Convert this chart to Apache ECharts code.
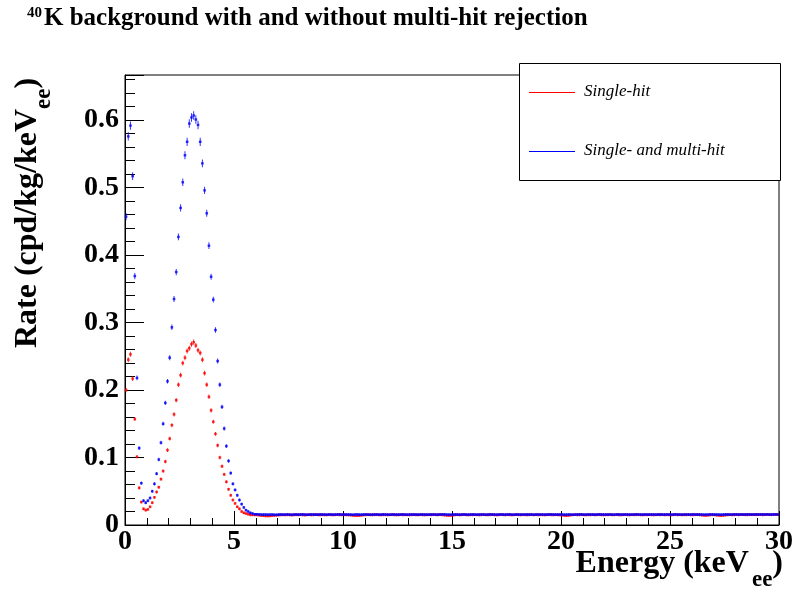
<!DOCTYPE html>
<html><head><meta charset="utf-8">
<script src="https://cdn.jsdelivr.net/npm/echarts@6/dist/echarts.min.js"></script>
<style>html,body{margin:0;padding:0;background:#fff}#c{width:796px;height:590px}</style>
</head><body><div id="c"></div><script>
// ---- data ----
const binWidth = 0.1; // keV per bin, bins start at 0
const singleHit = [
0.200,0.245,0.253,0.217,0.157,0.101,0.055,0.034,0.024,0.022,
0.023,0.027,0.033,0.041,0.049,0.056,0.068,0.080,0.094,0.111,
0.128,0.148,0.164,0.185,0.208,0.222,0.240,0.248,0.258,0.262,
0.268,0.271,0.266,0.259,0.255,0.245,0.225,0.208,0.190,0.170,
0.153,0.135,0.118,0.100,0.087,0.075,0.064,0.053,0.044,0.037,
0.032,0.027,0.024,0.020,0.018,0.017,0.016,0.015,0.015,0.015,
0.0148,0.0145,0.0141,0.0137,0.0134,0.0133,0.0135,0.0138,0.0142,0.0145,0.0147,0.0149,0.0150,0.0148,0.0151,0.0150,0.0147,0.0149,0.0151,0.0150,
0.0152,0.0149,0.0147,0.0150,0.0152,0.0149,0.0151,0.0153,0.0150,0.0148,0.0151,0.0150,0.0149,0.0152,0.0150,0.0148,0.0151,0.0153,0.0150,0.0149,
0.0151,0.0150,0.0148,0.0146,0.0142,0.0139,0.0137,0.0140,0.0144,0.0148,0.0150,0.0152,0.0150,0.0149,0.0151,0.0153,0.0150,0.0148,0.0151,0.0150,
0.0149,0.0151,0.0153,0.0150,0.0148,0.0150,0.0152,0.0149,0.0151,0.0150,0.0148,0.0151,0.0153,0.0150,0.0149,0.0152,0.0150,0.0148,0.0150,0.0152,
0.0150,0.0153,0.0151,0.0149,0.0152,0.0150,0.0147,0.0143,0.0140,0.0142,0.0146,0.0150,0.0152,0.0149,0.0151,0.0153,0.0150,0.0148,0.0151,0.0150,
0.0152,0.0150,0.0148,0.0151,0.0153,0.0150,0.0149,0.0151,0.0152,0.0150,0.0148,0.0150,0.0153,0.0151,0.0149,0.0152,0.0150,0.0148,0.0151,0.0153,
0.0150,0.0149,0.0152,0.0150,0.0148,0.0151,0.0153,0.0150,0.0152,0.0149,0.0151,0.0150,0.0148,0.0151,0.0153,0.0150,0.0149,0.0152,0.0150,0.0148,
0.0146,0.0141,0.0138,0.0142,0.0147,0.0150,0.0152,0.0149,0.0151,0.0153,0.0150,0.0148,0.0151,0.0150,0.0152,0.0149,0.0151,0.0153,0.0150,0.0149,
0.0151,0.0150,0.0152,0.0149,0.0151,0.0153,0.0150,0.0148,0.0151,0.0152,0.0150,0.0149,0.0152,0.0150,0.0151,0.0153,0.0150,0.0149,0.0151,0.0150,
0.0152,0.0150,0.0149,0.0151,0.0153,0.0150,0.0152,0.0149,0.0151,0.0150,0.0148,0.0151,0.0153,0.0150,0.0152,0.0149,0.0151,0.0150,0.0152,0.0150,
0.0149,0.0151,0.0153,0.0150,0.0147,0.0143,0.0140,0.0144,0.0148,0.0151,0.0149,0.0145,0.0141,0.0139,0.0143,0.0147,0.0150,0.0152,0.0150,0.0151,
0.0153,0.0150,0.0152,0.0154,0.0151,0.0150,0.0153,0.0155,0.0152,0.0151,0.0154,0.0152,0.0150,0.0153,0.0155,0.0152,0.0151,0.0154,0.0152,0.0153
];
const singleAndMultiHit = [
0.457,0.576,0.592,0.517,0.369,0.218,0.114,0.062,0.036,0.033,
0.036,0.040,0.050,0.061,0.076,0.097,0.122,0.150,0.181,0.213,
0.248,0.293,0.335,0.375,0.427,0.470,0.508,0.548,0.568,0.595,
0.604,0.607,0.601,0.593,0.568,0.536,0.496,0.462,0.414,0.368,
0.334,0.289,0.243,0.208,0.175,0.143,0.117,0.095,0.077,0.061,
0.052,0.044,0.037,0.031,0.026,0.022,0.020,0.018,0.017,0.016,
0.0160,0.0157,0.0155,0.0154,0.0156,0.0153,0.0154,0.0156,0.0152,0.0151,0.0154,0.0155,0.0153,0.0154,0.0156,0.0153,0.0152,0.0155,0.0156,0.0153,
0.0154,0.0157,0.0155,0.0152,0.0154,0.0156,0.0155,0.0153,0.0154,0.0157,0.0155,0.0154,0.0152,0.0155,0.0156,0.0154,0.0153,0.0155,0.0157,0.0154,
0.0156,0.0153,0.0155,0.0154,0.0152,0.0155,0.0157,0.0154,0.0153,0.0155,0.0156,0.0154,0.0152,0.0154,0.0156,0.0155,0.0153,0.0154,0.0157,0.0155,
0.0154,0.0152,0.0155,0.0156,0.0154,0.0153,0.0155,0.0157,0.0154,0.0152,0.0155,0.0156,0.0154,0.0155,0.0153,0.0154,0.0156,0.0155,0.0153,0.0154,
0.0156,0.0155,0.0153,0.0154,0.0157,0.0156,0.0158,0.0155,0.0153,0.0154,0.0156,0.0155,0.0154,0.0152,0.0155,0.0157,0.0154,0.0153,0.0155,0.0156,
0.0154,0.0153,0.0155,0.0156,0.0154,0.0152,0.0155,0.0157,0.0155,0.0154,0.0153,0.0155,0.0156,0.0154,0.0153,0.0155,0.0157,0.0154,0.0152,0.0155,
0.0156,0.0154,0.0153,0.0155,0.0157,0.0155,0.0154,0.0152,0.0155,0.0156,0.0154,0.0155,0.0153,0.0154,0.0156,0.0157,0.0155,0.0153,0.0154,0.0156,
0.0155,0.0153,0.0154,0.0156,0.0155,0.0152,0.0154,0.0156,0.0157,0.0155,0.0153,0.0154,0.0156,0.0155,0.0154,0.0153,0.0155,0.0157,0.0156,0.0154,
0.0153,0.0155,0.0156,0.0154,0.0152,0.0155,0.0157,0.0155,0.0154,0.0156,0.0155,0.0153,0.0154,0.0156,0.0158,0.0155,0.0153,0.0154,0.0156,0.0155,
0.0154,0.0156,0.0155,0.0153,0.0154,0.0157,0.0155,0.0154,0.0156,0.0155,0.0153,0.0155,0.0157,0.0156,0.0154,0.0153,0.0155,0.0156,0.0154,0.0155,
0.0157,0.0155,0.0154,0.0156,0.0155,0.0153,0.0154,0.0156,0.0157,0.0155,0.0154,0.0156,0.0155,0.0153,0.0155,0.0157,0.0156,0.0154,0.0155,0.0157,
0.0156,0.0155,0.0157,0.0154,0.0156,0.0158,0.0155,0.0154,0.0156,0.0157,0.0155,0.0156,0.0158,0.0155,0.0157,0.0156,0.0154,0.0157,0.0158,0.0156
];
const xTickLabels = ['0','5','10','15','20','25','30'];
const yTickLabels = ['0','0.1','0.2','0.3','0.4','0.5','0.6'];
const seriesNames = ['Single-hit','Single- and multi-hit'];
const titleSup = '40';
const titleMain = 'K background with and without multi-hit rejection';

// ---- layout / style ----
const SERIF = '"Liberation Serif", "Times New Roman", serif';
const ctx = document.createElement('canvas').getContext('2d');
function tw(t, f){ ctx.font = f; return ctx.measureText(t).width; }
function pts(arr){ return arr.map((v,i)=>[(i+0.5)*binWidth, v]); }
function barSize(val){ return [1, 2.5 + 10*val[1]]; }

const chart = echarts.init(document.getElementById('c'), null, {renderer:'canvas'});

const mainF = 32, subF = 23;
const fMain = 'bold ' + mainF + 'px ' + SERIF, fSub = 'bold ' + subF + 'px ' + SERIF;
const xt = ['Energy (keV','ee',')'];
const xParenW = tw(xt[2], fMain), xSubW = tw(xt[1], fSub), xMainW = tw(xt[0], fMain);
const xRight = 783, xBase = 575, subShift = 13;
const xParenX = xRight - xParenW, xSubX = xParenX - xSubW, xMainX = xSubX - xMainW - 3;
const mid = f => 0.3375*f;
const yMainW = tw('Rate (cpd/kg/keV', fMain), ySubW = tw('ee', fSub);
const yBaseX = 39;

const txt = (text, x, y, font, size, extra) => Object.assign({
  type:'text', x:x, y:y, silent:true, z:50,
  style:Object.assign({text:text, fill:'#000', font:font, textAlign:'left', textVerticalAlign:'middle', lineHeight:size}, extra||{})
});

function layers(name, arr, color, z){
  return [
    {name:name, type:'scatter', data:pts(arr), symbol:'rect', symbolSize:barSize,
     itemStyle:{color:color}, z:z, silent:true},
    {name:name, type:'scatter', data:pts(arr), symbol:'rect', symbolSize:[2.6,2.4],
     itemStyle:{color:color}, z:z, silent:true}
  ];
}

const option = {
  animation:false,
  backgroundColor:'#fff',
  grid:{left:125, top:75, width:655, height:450, show:true, borderColor:'#000', borderWidth:1, backgroundColor:'transparent'},
  xAxis:{type:'value', min:0, max:30, interval:5,
    axisLine:{show:true, onZero:false, lineStyle:{color:'#000', width:1}},
    axisTick:{show:true, inside:true, length:14, lineStyle:{color:'#000', width:1}},
    minorTick:{show:true, splitNumber:5, length:7, lineStyle:{color:'#000', width:1}},
    splitLine:{show:false}, minorSplitLine:{show:false},
    axisLabel:{color:'#000', fontFamily:SERIF, fontWeight:'bold', fontSize:28, margin:3,
      formatter:(v)=>{ const i = Math.round(v/5); return Math.abs(v - i*5) < 1e-6 ? xTickLabels[i] : ''; }}
  },
  yAxis:{type:'value', min:0, max:0.667, interval:0.1,
    axisLine:{show:true, onZero:false, lineStyle:{color:'#000', width:1}},
    axisTick:{show:true, inside:true, length:19, lineStyle:{color:'#000', width:1}},
    minorTick:{show:true, splitNumber:5, length:10, lineStyle:{color:'#000', width:1}},
    splitLine:{show:false}, minorSplitLine:{show:false},
    axisLabel:{color:'#000', fontFamily:SERIF, fontWeight:'bold', fontSize:28, margin:6, showMaxLabel:false,
      formatter:(v)=>{ const i = Math.round(v*10); return Math.abs(v - i/10) < 1e-6 && i < yTickLabels.length ? yTickLabels[i] : ''; }}
  },
  series: layers(seriesNames[0], singleHit, '#ff0000', 2).concat(layers(seriesNames[1], singleAndMultiHit, '#0000ff', 3)),
  graphic:[
    txt(titleSup, 27, 18 - mid(15), 'bold 15px ' + SERIF, 15),
    txt(titleMain, 44, 26.5 - mid(25), 'bold 25px ' + SERIF, 25),
    txt(xt[0], xMainX, xBase - mid(mainF), fMain, mainF),
    txt(xt[1], xSubX, xBase + subShift - mid(subF), fSub, subF),
    txt(xt[2], xParenX, xBase - mid(mainF), fMain, mainF),
    {type:'group', x:yBaseX, y:348, rotation:Math.PI/2, z:50, silent:true, children:[
      txt('Rate (cpd/kg/keV', 0, -mid(mainF), fMain, mainF),
      txt('ee', yMainW, subShift - mid(subF), fSub, subF),
      txt(')', yMainW + ySubW, -mid(mainF), fMain, mainF)
    ]},
    {type:'rect', z:100, silent:true, shape:{x:519.5, y:63.5, width:261, height:117},
     style:{fill:'#fff', stroke:'#000', lineWidth:1}},
    {type:'line', z:101, silent:true, shape:{x1:529, y1:92.5, x2:575, y2:92.5}, style:{stroke:'#ff0000', lineWidth:1}},
    {type:'line', z:101, silent:true, shape:{x1:529, y1:151.5, x2:575, y2:151.5}, style:{stroke:'#0000ff', lineWidth:1}},
    Object.assign(txt(seriesNames[0], 584, 92, 'italic 17px ' + SERIF, 17), {z:101}),
    Object.assign(txt(seriesNames[1], 584, 151, 'italic 17px ' + SERIF, 17), {z:101})
  ]
};
chart.setOption(option);
</script></body></html>
